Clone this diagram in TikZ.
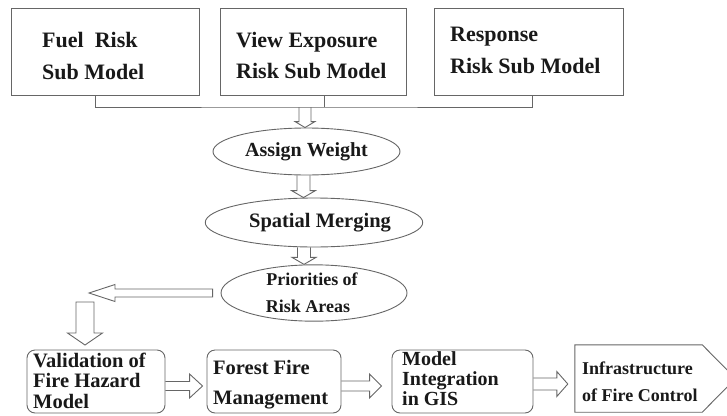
\documentclass[tikz,border=0pt]{standalone}
\usepackage{fontspec}
\setmainfont{Liberation Serif}
\usetikzlibrary{shapes.geometric,calc}
\newcommand\ArrDown[6]{\draw[conn] ($(#1)+(-#3,0)$) -- ($(#2)+(-#3,-#5)$) -- ($(#2)+(-#4,-#5)$) -- (#2) -- ($(#2)+(#4,-#5)$) -- ($(#2)+(#3,-#5)$) -- ($(#1)+(#3,0)$) #6;}
\newcommand\ArrRight[6]{\draw[conn] ($(#1)+(0,-#3)$) -- ($(#2)+(-#5,-#3)$) -- ($(#2)+(-#5,-#4)$) -- (#2) -- ($(#2)+(-#5,#4)$) -- ($(#2)+(-#5,#3)$) -- ($(#1)+(0,#3)$) #6;}
\newcommand\ArrLeft[6]{\draw[conn] ($(#1)+(0,-#3)$) -- ($(#2)+(#5,-#3)$) -- ($(#2)+(#5,-#4)$) -- (#2) -- ($(#2)+(#5,#4)$) -- ($(#2)+(#5,#3)$) -- ($(#1)+(0,#3)$) #6;}
\begin{document}
\begin{tikzpicture}[x=1pt,y=-1pt,
  conn/.style={draw=black!60, line width=0.9pt, line join=miter},
  sqbox/.style={draw=black!60, line width=0.9pt, rectangle, inner sep=0pt},
  rbox/.style={draw=black!60, line width=0.9pt, rectangle, rounded corners=8pt, inner sep=0pt},
  ell/.style={draw=black!60, line width=0.9pt, ellipse, inner sep=0pt, align=center, text=black!90},
  lbl/.style={anchor=west, align=left, inner sep=0pt, text=black!90}
]
\useasboundingbox (0,0) rectangle (727,415);
\clip (0,0) rectangle (727,415);

% top boxes
\node[sqbox, minimum width=187.4pt, minimum height=87pt] (b1) at (105.3,51.5) {};
\node[sqbox, minimum width=186pt, minimum height=87pt] (b2) at (313,51.5) {};
\node[sqbox, minimum width=189pt, minimum height=87pt] (b3) at (528.5,51.5) {};
\node[lbl, font=\bfseries\fontsize{22}{32}\selectfont] (t1) at (42,56) {Fuel\ \ Risk\\Sub Model};
\node[lbl, font=\bfseries\fontsize{22}{31}\selectfont] (t2) at (236,55.5) {View Exposure\\Risk Sub Model};
\node[lbl, font=\bfseries\fontsize{22}{32}\selectfont] (t3) at (450,50) {Response\\Risk Sub Model};

% ellipses
\node[ell, minimum width=187pt, minimum height=47pt, font=\bfseries\fontsize{20}{24}\selectfont] (e1) at (306.5,151.5) {Assign Weight};
\node[ell, minimum width=188pt, minimum height=49pt, font=\bfseries\fontsize{20.5}{24}\selectfont] (e2) at (314,222.5) {\hspace*{12pt}Spatial Merging};
\node[ell, minimum width=186pt, minimum height=50pt, font=\bfseries\fontsize{18}{27}\selectfont] (e3) at (314,293) {\hspace*{-4pt}Priorities of\\[0pt]\hspace*{-12pt}Risk Areas};

% bottom boxes
\node[rbox, minimum width=138pt, minimum height=63pt] (v1) at (96,381.5) {};
\node[rbox, minimum width=134pt, minimum height=63pt] (v2) at (274,381.5) {};
\node[rbox, minimum width=141pt, minimum height=63pt] (v3) at (462.5,381.5) {};
\node[minimum width=127pt, minimum height=67pt, inner sep=0pt] (v4) at (638.5,378.5) {};
\draw[conn] (v4.north west) -- (v4.north east) -- ($(v4.east)+(33.5,0)$) -- (v4.south east) -- (v4.south west) -- cycle;
\node[lbl, font=\bfseries\fontsize{20.5}{20.5}\selectfont] (tv1) at (33,380.5) {Validation of\\Fire Hazard\\Model};
\node[lbl, font=\bfseries\fontsize{20.5}{30}\selectfont] (tv2) at (213,385) {Forest Fire\\Management};
\node[lbl, font=\bfseries\fontsize{20}{20}\selectfont] (tv3) at (402,378.5) {Model\\Integration\\in GIS};
\node[lbl, font=\bfseries\fontsize{18}{27}\selectfont] (tv4) at (582,381.5) {Infrastructure\\of Fire Control};

% bracket
\coordinate (bk) at (305,107);
\draw[conn] ($(b1.south)+(-10,0)$) |- (bk) -| ($(b3.south)+(3.5,0)$);
\draw[conn] ($(b2.south)+(11,0)$) -- ($(b2.south)+(11,12)$);

% vertical hollow arrows
\coordinate (a1t) at (bk |- e1.north);
\ArrDown{bk}{a1t}{6}{10}{6}{}
\coordinate (a2s) at ($(e1.south)+(-3,0)$);
\coordinate (a2t) at (a2s |- e2.north);
\ArrDown{a2s}{a2t}{6.5}{12}{7}{}
\coordinate (a3s) at ($(e2.south)+(-10,0)$);
\coordinate (a3t) at (a3s |- e3.north);
\ArrDown{a3s}{a3t}{6.5}{12}{7}{}

% left arrow and down arrow
\coordinate (ls) at ($(e3.west)+(-8,0)$);
\coordinate (lt) at (89,293);
\ArrLeft{ls}{lt}{4}{8.5}{26}{-- cycle}
\coordinate (ds) at (85,302);
\coordinate (dt) at (85,345);
\ArrDown{ds}{dt}{9}{17.5}{12}{-- cycle}

% horizontal hollow arrows
\coordinate (h1s) at ($(v1.east)+(0,4.5)$);
\coordinate (h1t) at ($(v2.west)+(-4,4.5)$);
\ArrRight{h1s}{h1t}{4.5}{12}{13}{}
\coordinate (h2s) at ($(v2.east)+(0,4.5)$);
\coordinate (h2t) at ($(v3.west)+(-10,4.5)$);
\ArrRight{h2s}{h2t}{5}{12}{12}{}
\coordinate (h3s) at ($(v3.east)+(0,2.5)$);
\coordinate (h3t) at ($(v4.west)+(-7,5.5)$);
\ArrRight{h3s}{h3t}{6}{12.5}{11}{}
\end{tikzpicture}
\end{document}
